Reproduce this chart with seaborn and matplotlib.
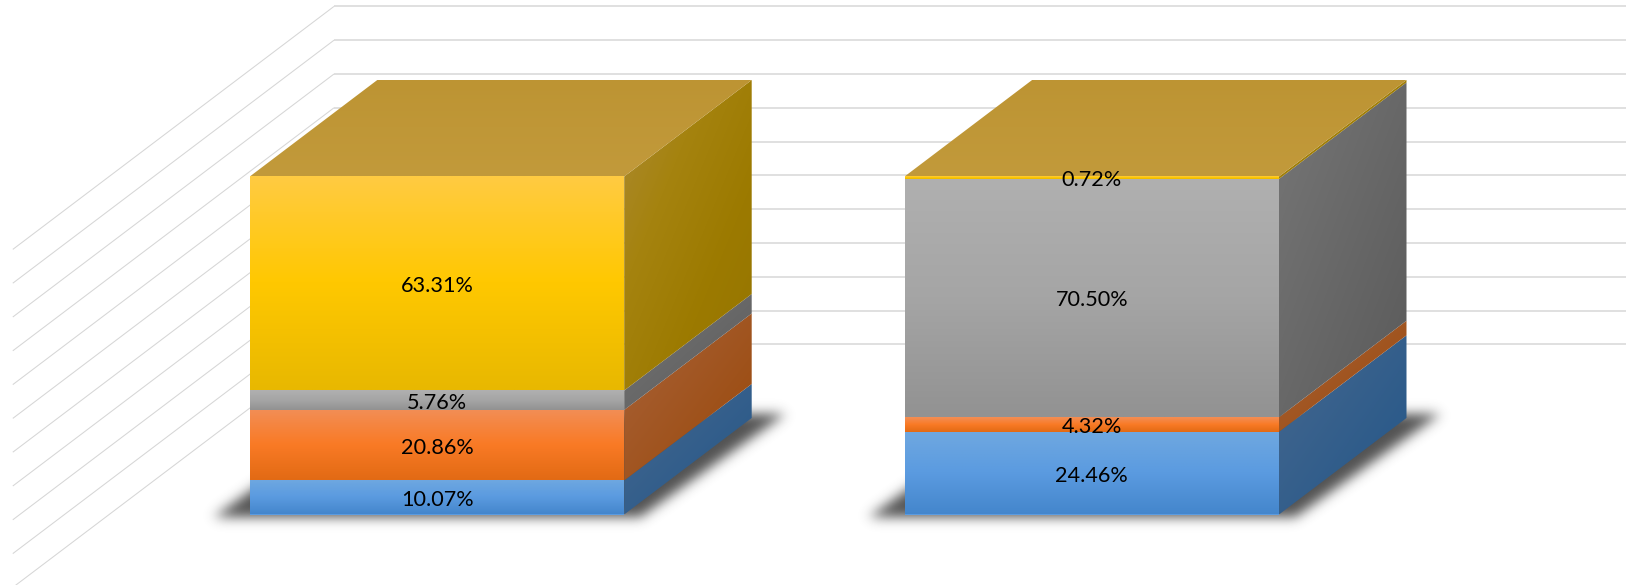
import numpy as np
import pandas as pd
import matplotlib
matplotlib.use("Agg")
import matplotlib.pyplot as plt
from matplotlib.colors import to_rgb
from matplotlib.patches import Polygon
import seaborn as sns

categories = ["Group 1", "Group 2"]
series_names = ["Blue", "Orange", "Gray", "Yellow"]
blue_values = [10.07, 24.46]
orange_values = [20.86, 4.32]
gray_values = [5.76, 70.50]
yellow_values = [63.31, 0.72]
grid_percents = [0, 10, 20, 30, 40, 50, 60, 70, 80, 90, 100]

# styling
FRONT = {
    "Blue": ["#6FA8E0", "#5B9BE0", "#4486CC"],
    "Orange": ["#F28E56", "#F97A25", "#E26A14"],
    "Gray": ["#B0B0B0", "#A5A5A5", "#929292"],
    "Yellow": ["#FFCB42", "#FFC800", "#E8B800"],
}
SIDE = {
    "Blue": ["#46688F", "#235688"],
    "Orange": ["#A9633B", "#994808"],
    "Gray": ["#767676", "#5A5A5A"],
    "Yellow": ["#AC8A35", "#A5830F", "#9C7A00", "#957500"],
}
TOP = ["#C29A3B", "#BD9433"]

W, H = 1626, 585
PX_X, PX_Y = 654.8, 3.38          # pixels per data unit
C0_PX, BASE_PX = 437.0, 514.5     # first bar centre and bar base, in pixels
BAR_W = 374.4 / PX_X
DX, DY = 127.5 / PX_X, 96.5 / PX_Y  # bar depth vector
WALL_X = (334 - C0_PX) / PX_X
WALL_Y = (BASE_PX - 344.4) / PX_Y
FLOOR_DX = 321.2 / PX_X
FLOOR_DY = -243.0 / PX_Y

sns.set_theme(style="white")
plt.rcParams["font.family"] = ["Lato", "DejaVu Sans"]

fig = plt.figure(figsize=(W / 100, H / 100), dpi=100, facecolor="white")
ax = fig.add_axes([0, 0, 1, 1])

stack = np.array([blue_values, orange_values, gray_values, yellow_values])
cum = np.cumsum(stack, axis=0)

# stacked front faces, drawn tallest first
for i in range(len(series_names) - 1, -1, -1):
    df = pd.DataFrame({"cat": categories, "cum": cum[i]})
    sns.barplot(data=df, x="cat", y="cum", order=categories, color=FRONT[series_names[i]][1],
                width=BAR_W, saturation=1, errorbar=None, ax=ax, zorder=2, linewidth=0)

xlim = (-C0_PX / PX_X, (W - C0_PX) / PX_X)
ylim = ((BASE_PX - H) / PX_Y, BASE_PX / PX_Y)


def gradient(poly, stops, mode, z=3):
    poly = np.asarray(poly)
    x0, x1, y0, y1 = poly[:, 0].min(), poly[:, 0].max(), poly[:, 1].min(), poly[:, 1].max()
    n = 128
    xx, yy = np.meshgrid(np.linspace(0, 1, n), np.linspace(1, 0, n))
    t = (1 - yy) if mode == "v" else (xx + (1 - yy)) / 2
    cols = np.array([to_rgb(c) for c in stops])
    pos = np.linspace(0, 1, len(stops))
    rgb = np.dstack([np.interp(t, pos, cols[:, k]) for k in range(3)])
    im = ax.imshow(rgb, extent=[x0, x1, y0, y1], aspect="auto", zorder=z, interpolation="bilinear")
    im.set_clip_path(Polygon(poly, closed=True, transform=ax.transData))


def shadow(c):
    # soft shadow under the bar: blurred parallelogram, offsets in pixels
    l, r = c - BAR_W / 2, c + BAR_W / 2
    poly = np.array([
        [l - 36 / PX_X, -3 / PX_Y],
        [r + 16 / PX_X, -3 / PX_Y],
        [r + DX + 33 / PX_X, DY + 4 / PX_Y],
        [l + DX - 20 / PX_X, DY + 4 / PX_Y],
    ])
    pts = poly * [PX_X, PX_Y]
    pad = 26
    xs = np.arange(pts[:, 0].min() - pad, pts[:, 0].max() + pad)
    ys = np.arange(pts[:, 1].min() - pad, pts[:, 1].max() + pad)
    xx, yy = np.meshgrid(xs, ys[::-1])
    d = np.full(xx.shape, np.inf)
    for a, b in zip(pts, np.roll(pts, -1, axis=0)):
        e = b - a
        nrm = np.array([-e[1], e[0]]) / np.hypot(*e)
        d = np.minimum(d, (xx - a[0]) * nrm[0] + (yy - a[1]) * nrm[1])
    mask = (d >= 0).astype(float)
    sigma = 6.0
    kx = np.arange(-20, 21)
    kernel = np.exp(-kx ** 2 / (2 * sigma ** 2))
    kernel /= kernel.sum()
    mask = np.apply_along_axis(lambda m: np.convolve(m, kernel, mode="same"), 0, mask)
    mask = np.apply_along_axis(lambda m: np.convolve(m, kernel, mode="same"), 1, mask)
    rgba = np.zeros(xx.shape + (4,))
    rgba[..., :3] = 0.25
    rgba[..., 3] = 0.9 * mask
    ax.imshow(rgba, extent=[xs[0] / PX_X, xs[-1] / PX_X, ys[0] / PX_Y, ys[-1] / PX_Y],
              aspect="auto", zorder=1.5, interpolation="bilinear")


# back wall and floor grid
for p in grid_percents:
    y = WALL_Y + p
    ax.plot([WALL_X, xlim[1]], [y, y], color="#E0E0E0", lw=1.4, zorder=1, solid_capstyle="butt")
    ax.plot([WALL_X, WALL_X - FLOOR_DX], [y, y + FLOOR_DY], color="#D6D6D6", lw=0.75, zorder=1,
            solid_capstyle="butt")

for j, c in enumerate(range(len(categories))):
    l, r = c - BAR_W / 2, c + BAR_W / 2
    shadow(c)
    bottom = 0.0
    for i, name in enumerate(series_names):
        v = stack[i][j]
        top = bottom + v
        gradient([[l, bottom], [r, bottom], [r, top], [l, top]], FRONT[name], "v")
        gradient([[r, bottom], [r + DX, bottom + DY], [r + DX, top + DY], [r, top]], SIDE[name], "d")
        ax.text(c, (bottom + top) / 2 - 0.1, f"{v:.2f}%", ha="center", va="center_baseline",
                fontsize=15.6, color="#000000", zorder=6)
        bottom = top
    gradient([[l, bottom], [r, bottom], [r + DX, bottom + DY], [l + DX, bottom + DY]], TOP[::-1], "v", z=3)

ax.set_xlim(xlim)
ax.set_ylim(ylim)
ax.set_axis_off()
fig.savefig("out.png", dpi=100, facecolor="white")
